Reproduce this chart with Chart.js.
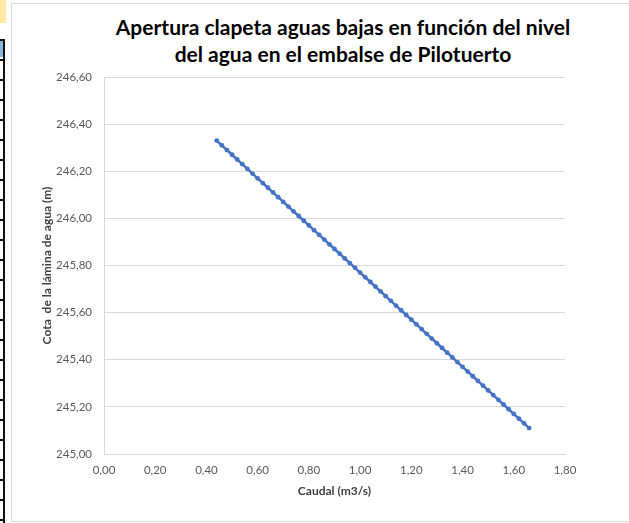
<!DOCTYPE html>
<html>
<head>
<meta charset="utf-8">
<script src="https://cdn.jsdelivr.net/npm/chart.js@4/dist/chart.umd.min.js"></script>
<style>
  html, body { margin: 0; padding: 0; background: #fff; }
  #page { position: relative; width: 629px; height: 523px; overflow: hidden; background: #fff; }
  #sheetTab { position: absolute; left: 0; top: 0; width: 6px; height: 23px; background: #fde8a4; }
  #sheetCol { position: absolute; left: 0; top: 39px; width: 3px; height: 484px;
    border-right: 2px solid #111;
    background: repeating-linear-gradient(to bottom, #111 0, #111 2px, #fff 2px, #fff 20px); }
  #sheetCol .sel { position: absolute; left: 0; top: 2px; width: 3px; height: 16px; background: #8fb4dc; }
  #frame { position: absolute; left: 11px; top: 3px; width: 700px; height: 517px; border: 1px solid #d9d9d9; background: #fff; }
  #title { position: absolute; left: 43px; width: 600px; top: 13px; text-align: center;
    font-family: Lato, "Noto Sans", sans-serif; font-weight: bold; font-size: 21px; line-height: 27px; color: #000; }
  #c { position: absolute; left: 0; top: 0; }
</style>
</head>
<body>
<div id="page">
  <div id="sheetTab"></div>
  <div id="sheetCol"><div class="sel"></div></div>
  <div id="frame"></div>
  <div id="title">Apertura clapeta aguas bajas en función del nivel<br>del agua en el embalse de Pilotuerto</div>
  <canvas id="c" width="629" height="523"></canvas>
</div>
<script>
// Caudal desaguado (m3/s) y cota de la lámina de agua (m)
const caudal = [0.44,0.46,0.48,0.50,0.52,0.54,0.56,0.58,0.60,0.62,0.64,0.66,0.68,0.70,0.72,0.74,0.76,0.78,0.80,0.82,0.84,0.86,0.88,0.90,0.92,0.94,0.96,0.98,1.00,1.02,1.04,1.06,1.08,1.10,1.12,1.14,1.16,1.18,1.20,1.22,1.24,1.26,1.28,1.30,1.32,1.34,1.36,1.38,1.40,1.42,1.44,1.46,1.48,1.50,1.52,1.54,1.56,1.58,1.60,1.62,1.64,1.66];
const cota = [246.33,246.31,246.29,246.27,246.25,246.23,246.21,246.19,246.17,246.15,246.13,246.11,246.09,246.07,246.05,246.03,246.01,245.99,245.97,245.95,245.93,245.91,245.89,245.87,245.85,245.83,245.81,245.79,245.77,245.75,245.73,245.71,245.69,245.67,245.65,245.63,245.61,245.59,245.57,245.55,245.53,245.51,245.49,245.47,245.45,245.43,245.41,245.39,245.37,245.35,245.33,245.31,245.29,245.27,245.25,245.23,245.21,245.19,245.17,245.15,245.13,245.11];

// Marcas de los ejes
const xTicks = [0.00,0.20,0.40,0.60,0.80,1.00,1.20,1.40,1.60,1.80];
const yTicks = [245.00,245.20,245.40,245.60,245.80,246.00,246.20,246.40,246.60];

const coma = v => Number(v).toFixed(2).replace('.', ',');
const puntos = caudal.map((q, i) => ({ x: q, y: cota[i] }));

const tickFont = { family: 'Lato, "Noto Sans", sans-serif', size: 11.5 };
const titleFont = { family: 'Lato, "Noto Sans", sans-serif', size: 12, weight: 'bold' };

new Chart(document.getElementById('c'), {
  type: 'scatter',
  data: {
    datasets: [{
      data: puntos,
      showLine: true,
      borderColor: '#4472C4',
      backgroundColor: '#4472C4',
      borderWidth: 2.5,
      pointRadius: 2.4,
      pointBorderWidth: 0,
      pointHoverRadius: 2.4
    }]
  },
  options: {
    responsive: false,
    animation: false,
    events: [],
    layout: { padding: { left: 0, right: 64, top: 77, bottom: 9 } },
    plugins: { legend: { display: false }, title: { display: false }, tooltip: { enabled: false } },
    scales: {
      x: {
        type: 'linear',
        min: 0, max: 1.8,
        afterBuildTicks: s => { s.ticks = xTicks.map(v => ({ value: v })); },
        afterFit: s => { s.height = 60; },
        grid: { display: false, drawTicks: false },
        border: { display: true, color: '#d9d9d9', width: 1 },
        ticks: { color: '#595959', font: tickFont, padding: 9, maxRotation: 0, callback: v => coma(v) },
        title: { display: true, text: 'Caudal (m3/s)', color: '#404040', font: titleFont, padding: { top: 0, bottom: 16 } }
      },
      y: {
        type: 'linear',
        min: 245, max: 246.6,
        afterBuildTicks: s => { s.ticks = yTicks.map(v => ({ value: v })); },
        afterFit: s => { s.width = 104; },
        grid: { color: '#d9d9d9', lineWidth: 1, drawTicks: false },
        border: { display: true, color: '#d9d9d9', width: 1 },
        ticks: { color: '#595959', font: tickFont, padding: 12, callback: v => coma(v) },
        title: { display: true, text: 'Cota  de la lámina de agua (m)', color: '#404040', font: titleFont, padding: { top: 40, bottom: 0 } }
      }
    }
  }
});
</script>
</body>
</html>
